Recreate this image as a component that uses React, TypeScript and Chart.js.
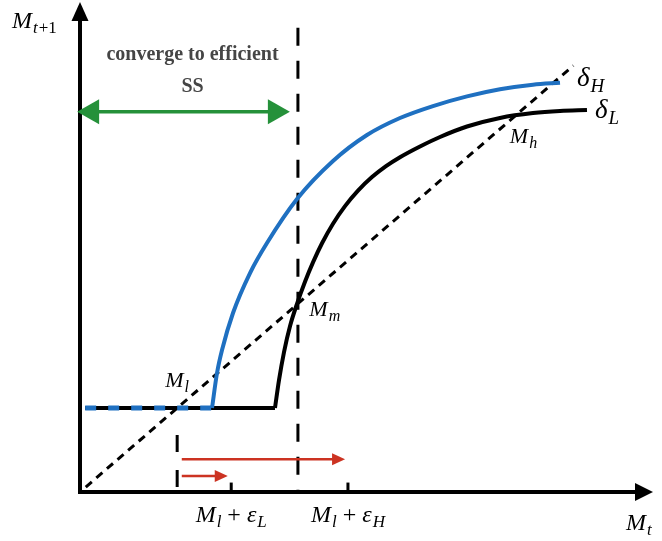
import React, { useEffect, useRef } from "react";
import { Chart, registerables } from "chart.js";

Chart.register(...registerables);

// ---- data (units chosen so the 45° line M_{t+1} = M_t is y = x) ----
const lowLevel = 16.9; // M_l : flat part / low steady state
const midLevel = 37.8; // M_m
const highLevel = 75.8; // M_h
const flatStart = 0.9;
const blueKink = 22.96;
const blackKink = 33.91;

const blueX = [22.96, 23.83, 24.7, 26.61, 29.57, 32.52, 37.74, 44.0, 49.91, 55.65, 61.39, 67.3, 73.04, 78.78, 83.48];
const blueY = [16.9, 23.94, 28.57, 36.02, 44.06, 50.1, 58.95, 66.6, 71.83, 75.25, 77.66, 79.61, 81.05, 81.97, 82.35];

const blackX = [33.91, 34.61, 35.48, 36.52, 37.74, 39.13, 40.52, 42.09, 44.0, 46.09, 48.35, 50.78, 53.22, 55.65, 59.13, 62.61, 67.3, 73.04, 78.78, 83.48, 88.17];
const blackY = [16.9, 22.5, 28.16, 33.36, 37.87, 42.32, 46.21, 50.06, 53.98, 57.53, 60.65, 63.37, 65.57, 67.37, 69.53, 71.44, 73.55, 75.27, 76.25, 76.67, 76.86];

const diagonalX = [1.0, 85.8];
const thresholdX = 37.9;
const thresholdTop = 93.4;
const dropTop = 11.5;

const tickValues = [26.3, 46.6];
const tickSubs = ["L", "H"];
const redArrowStart = 17.7;
const redArrowEnds = [46.1, 25.7];
const redArrowY = [6.6, 3.2];
const greenArrowX = [-0.5, 36.5];
const greenArrowY = 76.5;

const xMax = 100;
const yMax = 98.6;

const BLUE = "#1f70c1";
const BLACK = "#000000";
const RED = "#cc3322";
const GREEN = "#25913a";
const SERIF = "'Liberation Serif', 'DejaVu Serif', serif";

type Seg = { t: string; it?: boolean; sub?: boolean };

function drawMath(
  ctx: CanvasRenderingContext2D,
  segs: Seg[],
  x: number,
  y: number,
  size: number,
  align: "left" | "center" = "left",
  subRatio = 0.72
) {
  const fontFor = (s: Seg) => {
    const sz = s.sub ? Math.round(size * subRatio) : size;
    return `${s.it ? "italic " : ""}${sz}px ${SERIF}`;
  };
  let total = 0;
  const widths = segs.map((s) => {
    ctx.font = fontFor(s);
    const w = ctx.measureText(s.t).width + (s.sub ? 1 : 0);
    total += w;
    return w;
  });
  let cx = align === "center" ? x - total / 2 : x;
  ctx.textAlign = "left";
  ctx.textBaseline = "alphabetic";
  ctx.fillStyle = "#000";
  segs.forEach((s, i) => {
    ctx.font = fontFor(s);
    ctx.fillText(s.t, cx + (s.sub ? 1 : 0), y + (s.sub ? size * 0.22 : 0));
    cx += widths[i];
  });
}

function arrowHead(
  ctx: CanvasRenderingContext2D,
  tipX: number,
  tipY: number,
  dir: number,
  len: number,
  half: number,
  vertical = false
) {
  ctx.beginPath();
  if (!vertical) {
    ctx.moveTo(tipX, tipY);
    ctx.lineTo(tipX - dir * len, tipY - half);
    ctx.lineTo(tipX - dir * len, tipY + half);
  } else {
    ctx.moveTo(tipX, tipY);
    ctx.lineTo(tipX - half, tipY + len);
    ctx.lineTo(tipX + half, tipY + len);
  }
  ctx.closePath();
  ctx.fill();
}

const overlay = {
  id: "overlay",
  afterDatasetsDraw(chart: any) {
    const ctx: CanvasRenderingContext2D = chart.ctx;
    const xs = chart.scales.x;
    const ys = chart.scales.y;
    const area = chart.chartArea;
    const ox = xs.getPixelForValue(0);
    const oy = ys.getPixelForValue(0);
    ctx.save();

    // axes
    ctx.strokeStyle = "#000";
    ctx.fillStyle = "#000";
    ctx.lineWidth = 4;
    ctx.beginPath();
    ctx.moveTo(ox, oy + 2);
    ctx.lineTo(ox, area.top + 16);
    ctx.moveTo(ox - 2, oy);
    ctx.lineTo(area.right - 16, oy);
    ctx.stroke();
    arrowHead(ctx, ox, area.top, 1, 19, 8.5, true);
    arrowHead(ctx, area.right - 2, oy, 1, 18, 9);

    // red arrows
    ctx.strokeStyle = RED;
    ctx.fillStyle = RED;
    ctx.lineWidth = 2.5;
    redArrowEnds.forEach((end, i) => {
      const y = ys.getPixelForValue(redArrowY[i]);
      const x0 = xs.getPixelForValue(redArrowStart);
      const x1 = xs.getPixelForValue(end);
      ctx.beginPath();
      ctx.moveTo(x0, y);
      ctx.lineTo(x1 - 10, y);
      ctx.stroke();
      arrowHead(ctx, x1, y, 1, 13, 6);
    });

    // green double arrow
    ctx.strokeStyle = GREEN;
    ctx.fillStyle = GREEN;
    ctx.lineWidth = 3.5;
    const gy = ys.getPixelForValue(greenArrowY);
    const gx0 = xs.getPixelForValue(greenArrowX[0]);
    const gx1 = xs.getPixelForValue(greenArrowX[1]);
    ctx.beginPath();
    ctx.moveTo(gx0 + 15, gy);
    ctx.lineTo(gx1 - 15, gy);
    ctx.stroke();
    arrowHead(ctx, gx0, gy, -1, 22, 12.5);
    arrowHead(ctx, gx1, gy, 1, 22, 12.5);

    // annotation text
    ctx.fillStyle = "#454545";
    ctx.textAlign = "center";
    ctx.textBaseline = "alphabetic";
    ctx.font = `bold 20px ${SERIF}`;
    const tx = (gx0 + gx1) / 2 + 9;
    ctx.fillText("converge to efficient", tx, 60);
    ctx.fillText("SS", tx, 92);

    // math labels
    drawMath(ctx, [{ t: "M", it: true }, { t: "t", it: true, sub: true }, { t: "+1", sub: true }], ox - 68, area.top + 26, 24);
    drawMath(ctx, [{ t: "M", it: true }, { t: "t", it: true, sub: true }], area.right - 29, oy + 38, 24);

    const lowPx = xs.getPixelForValue(lowLevel);
    const lowPy = ys.getPixelForValue(lowLevel);
    drawMath(ctx, [{ t: "M", it: true }, { t: "l", it: true, sub: true }], lowPx - 12, lowPy - 21, 22);

    const mmX = xs.getPixelForValue(midLevel);
    const mmY = ys.getPixelForValue(midLevel);
    drawMath(ctx, [{ t: "M", it: true }, { t: "m", it: true, sub: true }], mmX + 12, mmY + 12, 22);

    const mhX = xs.getPixelForValue(highLevel);
    const mhY = ys.getPixelForValue(highLevel);
    drawMath(ctx, [{ t: "M", it: true }, { t: "h", it: true, sub: true }], mhX - 6, mhY + 28, 22);

    const dhX = xs.getPixelForValue(blueX[blueX.length - 1]);
    const dhY = ys.getPixelForValue(blueY[blueY.length - 1]);
    drawMath(ctx, [{ t: "δ", it: true }, { t: "H", it: true, sub: true }], dhX + 17, dhY + 3, 27);

    const dlX = xs.getPixelForValue(blackX[blackX.length - 1]);
    const dlY = ys.getPixelForValue(blackY[blackY.length - 1]);
    drawMath(ctx, [{ t: "δ", it: true }, { t: "L", it: true, sub: true }], dlX + 8, dlY + 8, 27);

    tickValues.forEach((v, i) => {
      const px = xs.getPixelForValue(v);
      drawMath(
        ctx,
        [
          { t: "M", it: true },
          { t: "l", it: true, sub: true },
          { t: " + " },
          { t: "ε", it: true },
          { t: tickSubs[i], it: true, sub: true },
        ],
        px,
        oy + 30,
        24,
        "center"
      );
    });

    ctx.restore();
  },
};

const pts = (xs: number[], ys: number[]) => xs.map((x, i) => ({ x, y: ys[i] }));

export default function App() {
  const ref = useRef<HTMLCanvasElement | null>(null);

  useEffect(() => {
    if (!ref.current) return;
    const base = { showLine: true, pointRadius: 0, fill: false, borderCapStyle: "butt" as const };
    const datasets: any[] = [
      {
        ...base,
        label: "blueFlat",
        data: [{ x: flatStart, y: lowLevel }, { x: blueKink, y: lowLevel }],
        borderColor: BLUE,
        borderWidth: 5,
        borderDash: [11, 12],
        order: 0,
      },
      {
        ...base,
        label: "deltaH",
        data: pts(blueX, blueY),
        borderColor: BLUE,
        borderWidth: 4,
        cubicInterpolationMode: "monotone",
        order: 1,
      },
      {
        ...base,
        label: "deltaL",
        data: pts(blackX, blackY),
        borderColor: BLACK,
        borderWidth: 4,
        cubicInterpolationMode: "monotone",
        order: 2,
      },
      {
        ...base,
        label: "blackFlat",
        data: [{ x: flatStart, y: lowLevel }, { x: blackKink, y: lowLevel }],
        borderColor: BLACK,
        borderWidth: 4,
        order: 3,
      },
      {
        ...base,
        label: "diagonal",
        data: pts(diagonalX, diagonalX),
        borderColor: BLACK,
        borderWidth: 3,
        borderDash: [8, 6],
        order: 4,
      },
      {
        ...base,
        label: "threshold",
        data: [{ x: thresholdX, y: thresholdTop }, { x: thresholdX, y: 0 }],
        borderColor: BLACK,
        borderWidth: 3,
        borderDash: [18, 15],
        order: 5,
      },
      {
        ...base,
        label: "drop",
        data: [{ x: lowLevel, y: 1 }, { x: lowLevel, y: dropTop }],
        borderColor: BLACK,
        borderWidth: 3,
        borderDash: [17, 18],
        order: 5,
      },
      ...tickValues.map((v) => ({
        ...base,
        label: "tick",
        data: [{ x: v, y: 0 }, { x: v, y: 1.9 }],
        borderColor: BLACK,
        borderWidth: 3,
        order: 6,
      })),
    ];

    const chart = new Chart(ref.current, {
      type: "scatter",
      data: { datasets },
      options: {
        animation: false,
        responsive: false,
        devicePixelRatio: 1,
        events: [],
        layout: { padding: { left: 80, right: 7, top: 2, bottom: 49 } },
        scales: {
          x: { type: "linear", min: 0, max: xMax, display: false },
          y: { type: "linear", min: 0, max: yMax, display: false },
        },
        plugins: { legend: { display: false }, tooltip: { enabled: false } },
      },
      plugins: [overlay],
    });
    return () => chart.destroy();
  }, []);

  return (
    <div style={{ position: "fixed", left: 0, top: 0, width: 662, height: 541, background: "#fff" }}>
      <canvas ref={ref} width={662} height={541} style={{ display: "block" }} />
    </div>
  );
}
